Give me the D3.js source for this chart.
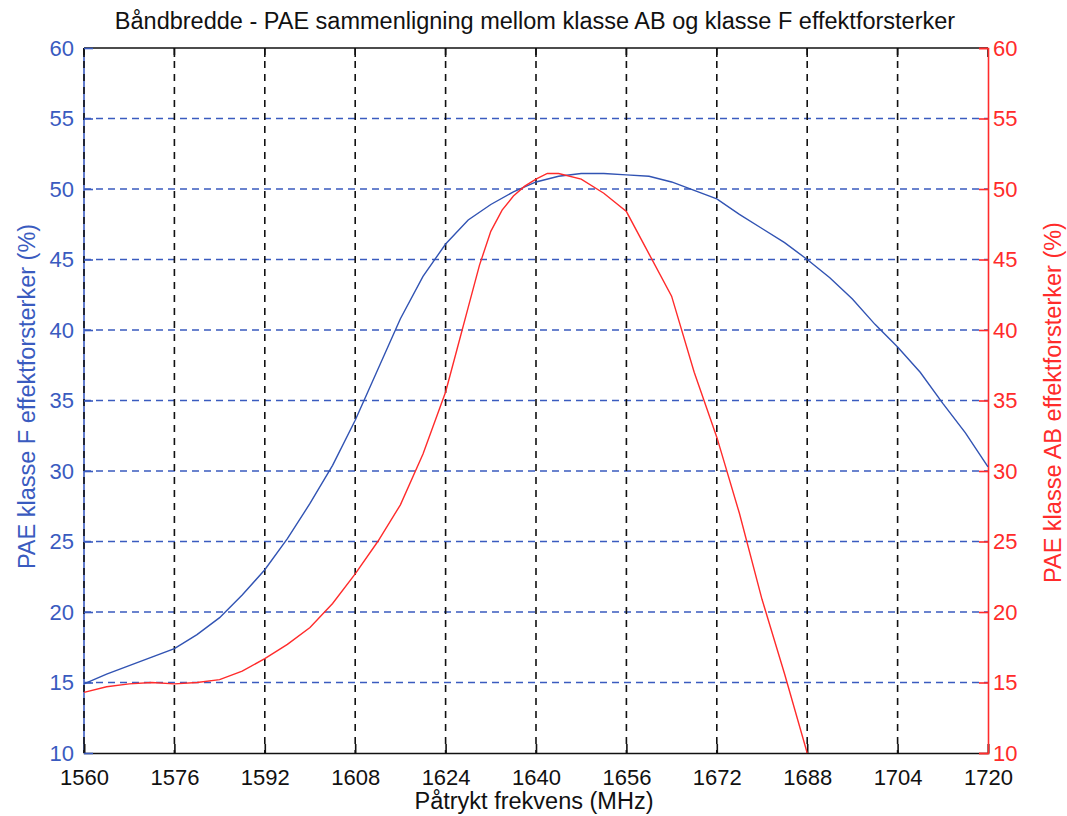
<!DOCTYPE html>
<html>
<head>
<meta charset="utf-8">
<script src="https://cdn.jsdelivr.net/npm/d3@7"></script>
<style>
  html, body { margin: 0; padding: 0; background: #ffffff; }
  svg { display: block; }
  text { font-family: "Liberation Sans", Arial, sans-serif; }
</style>
</head>
<body>
<svg id="chart" width="1067" height="816"></svg>
<script>
// ---- data ----
const freqF = [1560,1564,1568,1572,1576,1580,1584,1588,1592,1596,1600,1604,1608,1612,1616,1620,1624,1628,1632,1636,1640,1644,1648,1652,1656,1660,1664,1668,1672,1676,1680,1684,1688,1692,1696,1700,1704,1708,1712,1716,1720];
const paeF  = [14.9,15.6,16.2,16.8,17.4,18.4,19.6,21.2,23.0,25.2,27.7,30.4,33.6,37.2,40.8,43.8,46.1,47.8,48.9,49.8,50.5,50.9,51.1,51.1,51.0,50.9,50.5,49.9,49.3,48.2,47.2,46.2,45.0,43.7,42.2,40.4,38.8,37.0,34.8,32.7,30.3];
const freqAB = [1560,1564,1568,1572,1576,1580,1584,1588,1592,1596,1600,1604,1608,1612,1616,1620,1624,1626,1628,1630,1632,1634,1636,1638,1640,1642,1644,1648,1652,1656,1660,1664,1668,1672,1676,1680,1684,1688];
const paeAB  = [14.3,14.7,14.9,15.0,14.9,15.0,15.2,15.8,16.7,17.7,18.9,20.6,22.7,25.0,27.6,31.2,35.6,38.6,41.6,44.6,47.0,48.5,49.5,50.2,50.7,51.1,51.1,50.7,49.7,48.4,45.4,42.4,37.0,32.4,27.0,20.9,15.6,10.0];
const xTicks = [1560,1576,1592,1608,1624,1640,1656,1672,1688,1704,1720];
const yTicks = [10,15,20,25,30,35,40,45,50,55,60];

const titleText = "Båndbredde - PAE sammenligning mellom klasse AB og klasse F effektforsterker";
const xLabel = "Påtrykt frekvens (MHz)";
const yLeftLabel = "PAE klasse F effektforsterker (%)";
const yRightLabel = "PAE klasse AB effektforsterker (%)";

// ---- layout ----
const W = 1067, H = 816;
const m = {left: 84, right: 1067 - 988, top: 48, bottom: 816 - 753};
const blue = "#3a5bbf", red = "#ff2b2b";

const svg = d3.select("#chart");
const x = d3.scaleLinear().domain([1560, 1720]).range([m.left, W - m.right]);
const yL = d3.scaleLinear().domain([10, 60]).range([H - m.bottom, m.top]);
const yR = d3.scaleLinear().domain([10, 60]).range([H - m.bottom, m.top]);

const x0 = m.left, x1 = W - m.right, yb = H - m.bottom, yt = m.top;

// grid: horizontal (blue dashed)
svg.append("g").selectAll("line").data(yTicks.filter(d => d > 10 && d < 60)).join("line")
  .attr("x1", x0).attr("x2", x1)
  .attr("y1", d => yL(d)).attr("y2", d => yL(d))
  .attr("stroke", blue).attr("stroke-width", 1.6).attr("stroke-dasharray", "7,5");

// left axis line (blue)
svg.append("line").attr("x1", x0).attr("x2", x0).attr("y1", yt).attr("y2", yb)
  .attr("stroke", blue).attr("stroke-width", 1.6);

// grid: vertical (black dashed)
svg.append("g").selectAll("line").data(xTicks.filter(d => d < 1720)).join("line")
  .attr("x1", d => x(d)).attr("x2", d => x(d))
  .attr("y1", yt).attr("y2", yb)
  .attr("stroke", "#111").attr("stroke-width", 1.6).attr("stroke-dasharray", "7,6");

// top axis line (black)
svg.append("line").attr("x1", x0).attr("x2", x1).attr("y1", yt).attr("y2", yt)
  .attr("stroke", "#111").attr("stroke-width", 1.6);

// bottom axis with inward ticks
const xAxisG = svg.append("g").attr("transform", `translate(0,${yb})`)
  .call(d3.axisBottom(x).tickValues(xTicks).tickFormat(d3.format("d")).tickSize(-9).tickPadding(16));
xAxisG.select(".domain").attr("stroke", "#111").attr("stroke-width", 1.6);
xAxisG.selectAll(".tick line").attr("stroke", "#111").attr("stroke-width", 1.6);
xAxisG.selectAll(".tick text").attr("fill", "#111").style("font-size", "22px");

// top ticks
svg.append("g").selectAll("line").data(xTicks).join("line")
  .attr("x1", d => x(d)).attr("x2", d => x(d)).attr("y1", yt).attr("y2", yt + 9)
  .attr("stroke", "#111").attr("stroke-width", 1.6);

// left axis
const yLG = svg.append("g").attr("transform", `translate(${x0},0)`)
  .call(d3.axisLeft(yL).tickValues(yTicks).tickSize(-9).tickPadding(10));
yLG.select(".domain").remove();
yLG.selectAll(".tick line").attr("stroke", blue).attr("stroke-width", 1.6);
yLG.selectAll(".tick text").attr("fill", blue).style("font-size", "22px");

// right axis
const yRG = svg.append("g").attr("transform", `translate(${x1},0)`)
  .call(d3.axisRight(yR).tickValues(yTicks).tickSize(-9).tickPadding(5));
yRG.select(".domain").attr("stroke", red).attr("stroke-width", 1.6);
yRG.selectAll(".tick line").attr("stroke", red).attr("stroke-width", 1.6);
yRG.selectAll(".tick text").attr("fill", red).style("font-size", "22px");

// lines
const lineF = d3.line().x((d, i) => x(freqF[i])).y(d => yL(d));
const lineAB = d3.line().x((d, i) => x(freqAB[i])).y(d => yR(d));
svg.append("path").datum(paeF).attr("d", lineF)
  .attr("fill", "none").attr("stroke", "#3153b3").attr("stroke-width", 1.4);
svg.append("path").datum(paeAB).attr("d", lineAB)
  .attr("fill", "none").attr("stroke", red).attr("stroke-width", 1.4);

// texts
svg.append("text").attr("x", 535).attr("y", 29).attr("text-anchor", "middle")
  .attr("fill", "#111").style("font-size", "23.5px").text(titleText);
svg.append("text").attr("x", 534).attr("y", 809).attr("text-anchor", "middle")
  .attr("fill", "#111").style("font-size", "23.5px").text(xLabel);
svg.append("text").attr("transform", `translate(35,${(yt + yb) / 2 - 4}) rotate(-90)`)
  .attr("text-anchor", "middle").attr("fill", blue).style("font-size", "23.5px").text(yLeftLabel);
svg.append("text").attr("transform", `translate(1061,${(yt + yb) / 2 + 2}) rotate(-90)`)
  .attr("text-anchor", "middle").attr("fill", red).style("font-size", "23.5px").text(yRightLabel);
</script>
</body>
</html>
